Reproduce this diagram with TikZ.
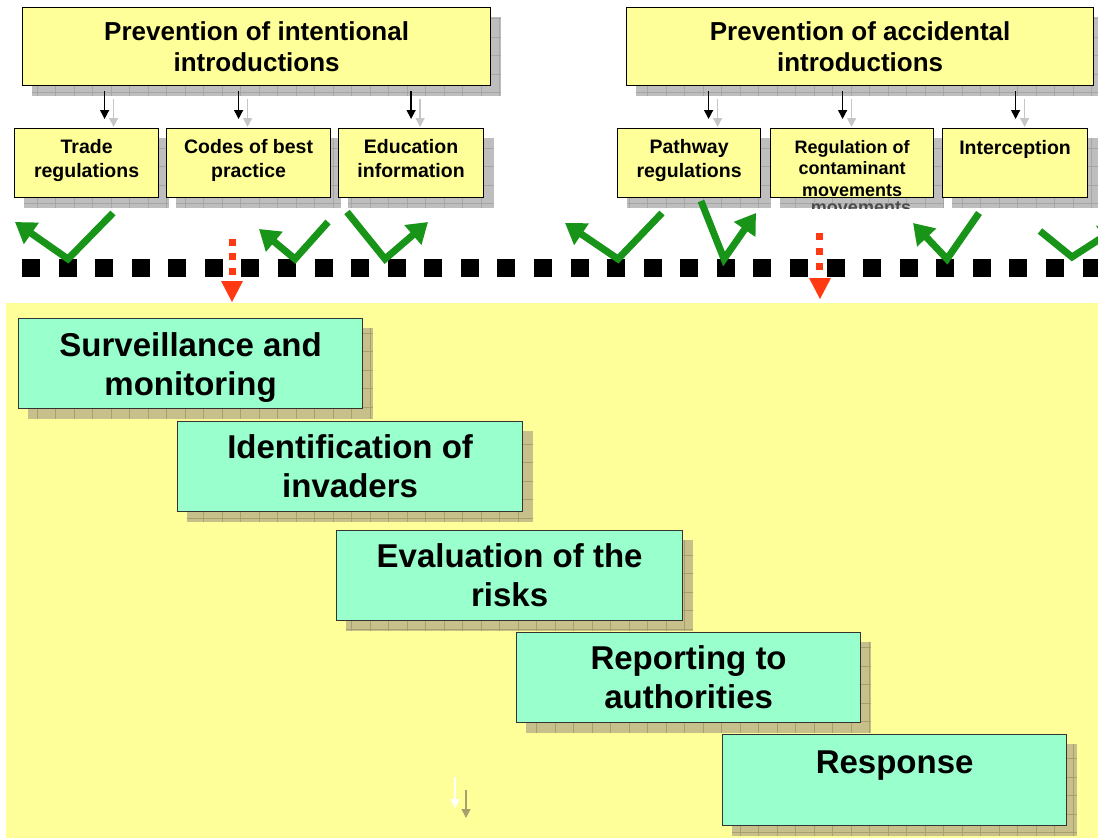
\documentclass[tikz,border=0pt]{standalone}
\usepackage{fontspec}
\setmainfont{Liberation Sans}
\usetikzlibrary{calc,arrows.meta}
\pgfdeclarelayer{bgA}
\pgfdeclarelayer{bgB}
\pgfsetlayers{bgA,bgB,main}
\definecolor{boxyellow}{HTML}{FFFF99}
\definecolor{bgyellow}{HTML}{FFFF99}
\definecolor{tealfill}{HTML}{99FFCC}
\definecolor{shgray}{HTML}{BEBEBE}
\definecolor{shgrayline}{HTML}{A6A6A6}
\definecolor{shkhaki}{HTML}{C8C08A}
\definecolor{shkhakiline}{HTML}{A89F6E}
\definecolor{chkgreen}{HTML}{189418}
\definecolor{redarr}{HTML}{FF3A12}
\newcommand\boxshadow[3]{%
  \begin{scope}
    \clip ([shift={(10,10)}]#1.north west) rectangle ([shift={(10,10)}]#1.south east);
    \fill[#2] ([shift={(10,10)}]#1.north west) rectangle ([shift={(10,10)}]#1.south east);
    \draw[#3, line width=0.7pt, xstep=18.5pt, ystep=18.5pt] ([shift={(10,10)}]#1.north west) grid ([shift={(10,10)}]#1.south east);
  \end{scope}}
\newcommand\dnrule[1]{\rule[-#1]{0pt}{#1}}
\newcommand\uprule[1]{\rule{0pt}{#1}}
\begin{document}
\begin{tikzpicture}[x=1pt, y=-1pt,
  anybox/.style={anchor=north west, align=center, inner sep=0pt, line width=1.2pt},
  bigbox/.style={anybox, draw=black, fill=boxyellow, minimum height=78pt,
    font=\fontsize{26}{31}\selectfont\bfseries},
  smallbox/.style={anybox, draw=black, fill=boxyellow, minimum height=69pt,
    font=\fontsize{19.5}{24}\selectfont\bfseries},
  tealbox/.style={anybox, draw=black!80, fill=tealfill, minimum width=345pt, minimum height=90pt,
    font=\fontsize{33}{39}\selectfont\bfseries},
  bconn/.style={draw=black, line width=1.3pt, -{Triangle[length=9pt,width=9pt]}},
  gconn/.style={draw=gray!45, line width=1.3pt, -{Triangle[length=9pt,width=9pt]}},
  check/.style={draw=chkgreen, line width=7pt, -{Triangle[length=20pt,width=25pt]}},
  redsq/.style={fill=redarr},
  blacksq/.style={fill=black}]
\useasboundingbox (0,0) rectangle (1098,838);

% top boxes
\node[bigbox, minimum width=468pt] (pi) at (22,7) {Prevention of intentional\\introductions};
\node[bigbox, minimum width=467pt] (pa) at (626,7) {Prevention of accidental\\introductions};
\node[smallbox, minimum width=144pt] (tr) at (14,128) {Trade\\regulations\dnrule{9pt}};
\node[smallbox, minimum width=164pt] (cb) at (166,128) {Codes of best\\practice\dnrule{9pt}};
\node[smallbox, minimum width=145pt] (ei) at (338,128) {Education\\information\dnrule{9pt}};
\node[smallbox, minimum width=143pt] (pr) at (617,128) {Pathway\\regulations\dnrule{9pt}};
\node[smallbox, minimum width=163pt, font=\fontsize{18}{21.5}\selectfont\bfseries] (rc) at (770,128) {\uprule{23pt}Regulation of\\contaminant\\movements};
\node[smallbox, minimum width=145pt] (ic) at (942,128) {Interception\\\strut};

% lower boxes
\node[tealbox, minimum width=344pt] (s1) at (18,318) {\uprule{32pt}Surveillance and\\monitoring};
\node[tealbox, minimum width=345pt] (s2) at (177,421) {Identification of\\invaders};
\node[tealbox, minimum width=346pt] (s3) at (336,530) {Evaluation of the\\risks};
\node[tealbox, minimum width=344pt] (s4) at (516,632) {Reporting to\\authorities};
\node[tealbox, minimum width=344pt, minimum height=91pt] (s5) at (722,734) {\uprule{38pt}Response\\\strut};

\begin{pgfonlayer}{bgA}
  \fill[bgyellow] (6,303) rectangle (1098,838);
\end{pgfonlayer}
\begin{pgfonlayer}{bgB}
  \foreach \n in {pi,pa,tr,cb,ei,pr,rc,ic} {\boxshadow{\n}{shgray}{shgrayline}}
  \foreach \n in {s1,s2,s3,s4,s5} {\boxshadow{\n}{shkhaki}{shkhakiline}}
  \begin{scope}
    \clip ([shift={(10,10)}]rc.north west) rectangle ([shift={(10,10)}]rc.south east);
    \node[anchor=base, inner sep=0pt, text=gray!60!black, font=\fontsize{18}{21.5}\selectfont\bfseries] (ghost) at (861,213) {movements};
  \end{scope}
\end{pgfonlayer}

% connectors from the two headings to their measures
\foreach \src/\dst/\dx in {pi/tr/18, pi/cb/-10, pi/ei/0, pa/pr/19.5, pa/rc/-9.5, pa/ic/0.5} {
  \coordinate (t-\dst) at ([xshift=\dx pt]\dst.north);
  \draw[gconn] ($(\src.south -| t-\dst)+(9,13)$) -- ($(t-\dst)+(9,-1)$);
  \draw[bconn] ($(\src.south -| t-\dst)+(0,5)$) -- ($(t-\dst)+(0,-9)$);
}

% dotted barrier
\foreach \i in {0,...,29} {
  \fill[blacksq] ({31+36.57*\i-9},259) rectangle ++(18,18);
}

% green check arrows
\draw[check] (113,213) -- (68,259) -- (15,222);
\draw[check] (328,222) -- (295,259) -- (259,229);
\draw[check] (347,212) -- (385,259) -- (428,222);
\draw[check] (662,213) -- (618,259) -- (565,223);
\draw[check] (701,201) -- (724,259) -- (756,213);
\draw[check] (979,213) -- (947,259) -- (913,223);
\draw[check] (1040,231) -- (1072,257) -- (1120,226);

% red dotted arrows
\foreach \yy in {242,256.5,271} {\fill[redsq] (228.5,\yy-3.5) rectangle ++(7,7);}
\fill[redsq] (221,281) -- (243,281) -- (232,302) -- cycle;
\foreach \yy in {236.5,251.5,266.5} {\fill[redsq] (816,\yy-3.5) rectangle ++(7,7);}
\fill[redsq] (809,278) -- (831,278) -- (820,299) -- cycle;

% faint arrows at the bottom
\coordinate (fa1) at (455,777);
\coordinate (fa2) at (455,808);
\coordinate (fb1) at (466,790);
\coordinate (fb2) at (466,818);
\draw[draw=white, line width=1.3pt, -{Triangle[length=9pt,width=9pt]}] (fa1) -- (fa2);
\draw[draw=shkhakiline, line width=1.3pt, -{Triangle[length=9pt,width=9pt]}] (fb1) -- (fb2);
\end{tikzpicture}
\end{document}
